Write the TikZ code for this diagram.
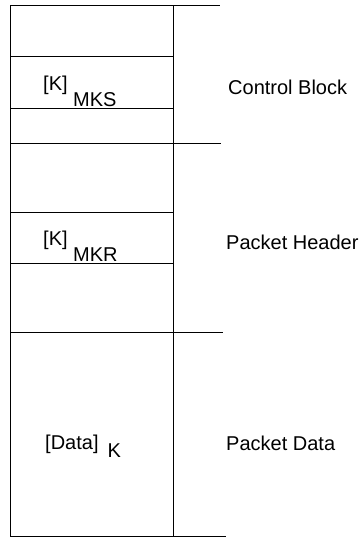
\documentclass[tikz,border=0pt]{standalone}
\usepackage{fontspec}
\setmainfont{Liberation Sans}
\usepackage{tikz}
\usetikzlibrary{positioning}
\tikzstyle{field} = [font=\fontsize{20}{24}\selectfont, inner sep=0pt, anchor=base west]
\tikzstyle{rule}  = [line width=1pt]
\newcommand{\subdrop}[2]{\raisebox{-#1}{#2}}

\begin{document}
\begin{tikzpicture}[x=1pt, y=-1pt]
  \useasboundingbox (0,0) rectangle (364,538);

  % --- Frame ---
  \draw[rule] (10,5) -- (10,536);
  \draw[rule] (173,5) -- (173,536);
  \draw[rule] (10,5) -- (220,5);
  \draw[rule] (10,143) -- (221,143);
  \draw[rule] (10,332) -- (223,332);
  \draw[rule] (10,536) -- (226,536);

  % inner fields
  \foreach \y in {56,108,212,263} \draw[rule] (10,\y) -- (173,\y);

  % Field contents
  \node[field] (mks)  at (43,90)  {[K] \subdrop{16pt}{MKS}};
  \node[field] (mkr)  at (43,245) {[K] \subdrop{16pt}{MKR}};
  \node[field] (data) at (45,449) {[Data]\hspace{9pt}\subdrop{8pt}{K}};

  % Section labels
  \node[field] (cblock) at (228,94)  {Control Block};
  \node[field] (phead)  at (226,249) {Packet Header};
  \node[field] (pdata)  at (226,450) {Packet Data};
\end{tikzpicture}
\end{document}
